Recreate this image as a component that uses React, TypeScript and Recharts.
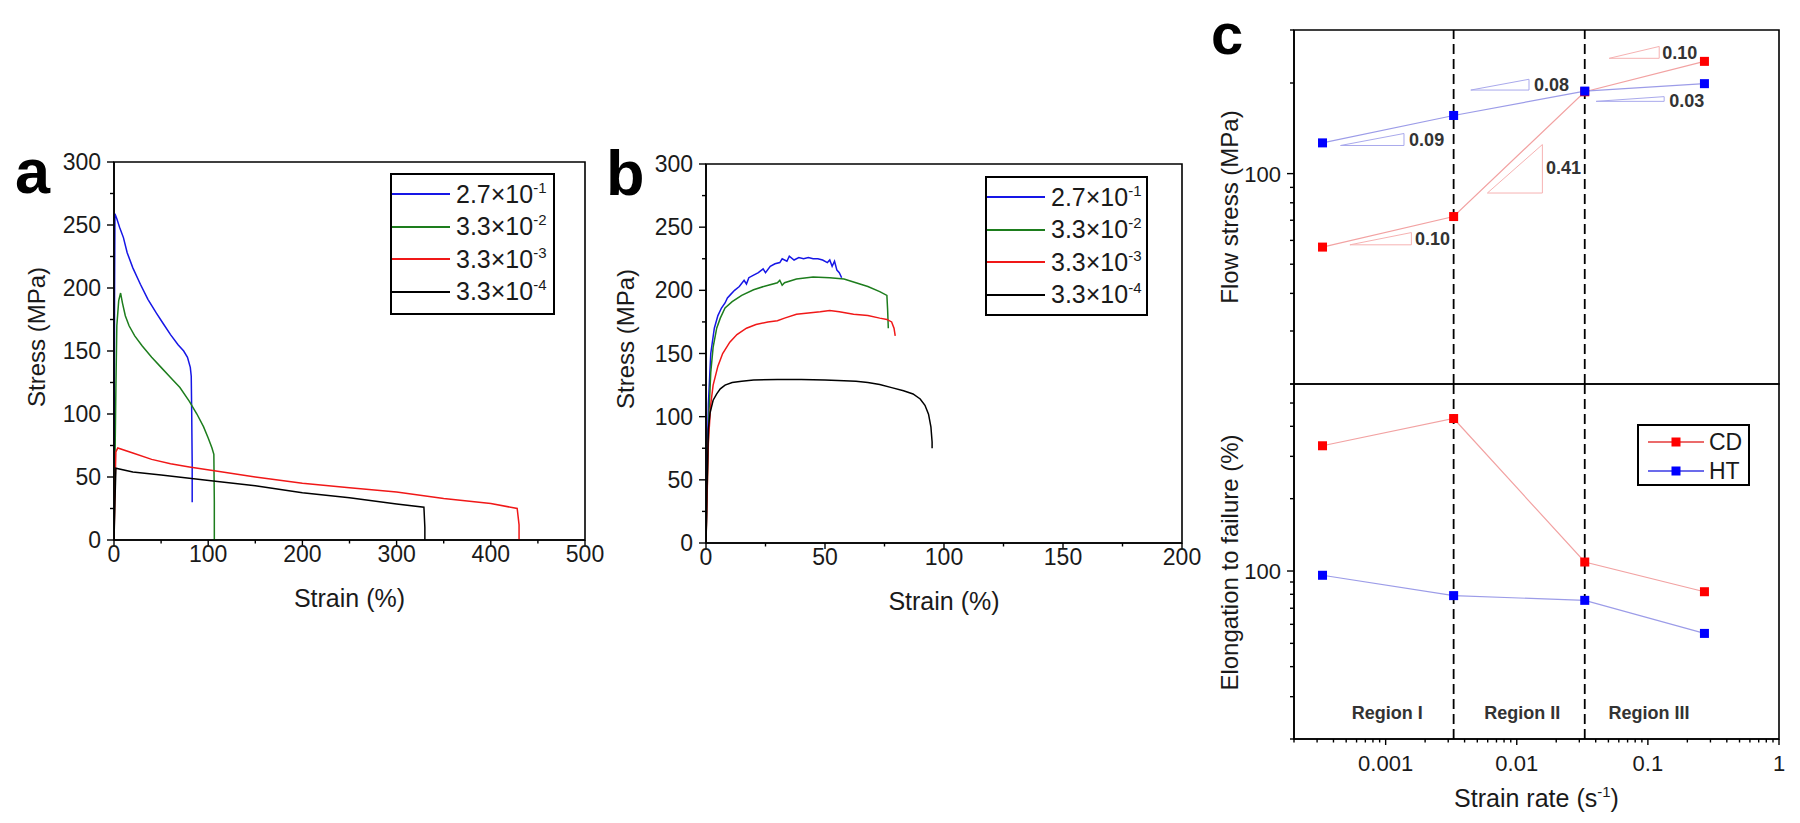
import React from "react";
import { LineChart, Line, XAxis, YAxis, ReferenceLine, ReferenceDot, ReferenceArea, Legend } from "recharts";

const FONT = '"Liberation Sans", Arial, Helvetica, sans-serif';
const INK = "#1a1a1a";

type Pt = { x: number; y: number };

// strain rates (s^-1) shared by the three panels
const rateLabels = [
  { base: "2.7×10", exp: "-1" },
  { base: "3.3×10", exp: "-2" },
  { base: "3.3×10", exp: "-3" },
  { base: "3.3×10", exp: "-4" },
];
const rateColors = ["#1616e6", "#1d7d1d", "#f01818", "#000000"];

// panel a: stress-strain (CD)
const aBlue: Pt[] = [
  { x: 0, y: 0 }, { x: 0.3, y: 120 }, { x: 0.6, y: 200 }, { x: 1, y: 259 }, { x: 3, y: 255 },
  { x: 6, y: 248 }, { x: 10, y: 240 }, { x: 14, y: 228 }, { x: 20, y: 216 }, { x: 28, y: 203 },
  { x: 36, y: 191 }, { x: 45, y: 180 }, { x: 52, y: 172 }, { x: 60, y: 163 }, { x: 68, y: 155 },
  { x: 74, y: 150 }, { x: 78, y: 145 }, { x: 81, y: 137 }, { x: 82, y: 130 }, { x: 82.5, y: 100 },
  { x: 83, y: 60 }, { x: 83, y: 30 },
];
const aGreen: Pt[] = [
  { x: 0, y: 0 }, { x: 1, y: 60 }, { x: 2, y: 120 }, { x: 3, y: 170 }, { x: 5, y: 190 },
  { x: 7, y: 196 }, { x: 9, y: 188 }, { x: 12, y: 178 }, { x: 16, y: 170 }, { x: 22, y: 162 },
  { x: 30, y: 154 }, { x: 40, y: 145 }, { x: 50, y: 137 }, { x: 60, y: 129 }, { x: 70, y: 121 },
  { x: 80, y: 110 }, { x: 88, y: 100 }, { x: 95, y: 90 }, { x: 100, y: 81 }, { x: 104, y: 73 },
  { x: 106, y: 68 }, { x: 106.5, y: 30 }, { x: 106.5, y: 0 },
];
const aRed: Pt[] = [
  { x: 0, y: 0 }, { x: 1, y: 40 }, { x: 2, y: 70 }, { x: 4, y: 73 }, { x: 20, y: 69 },
  { x: 40, y: 64 }, { x: 60, y: 60.5 }, { x: 80, y: 58 }, { x: 110, y: 54.5 }, { x: 150, y: 50 },
  { x: 200, y: 45 }, { x: 250, y: 41.5 }, { x: 300, y: 38 }, { x: 350, y: 33 }, { x: 400, y: 29 },
  { x: 428, y: 25 }, { x: 430, y: 12 }, { x: 430, y: 0 },
];
const aBlack: Pt[] = [
  { x: 0, y: 0 }, { x: 1, y: 30 }, { x: 2, y: 57 }, { x: 20, y: 54 }, { x: 50, y: 51.5 },
  { x: 80, y: 49 }, { x: 110, y: 46.5 }, { x: 150, y: 43 }, { x: 200, y: 37.5 }, { x: 250, y: 33.5 },
  { x: 300, y: 28.5 }, { x: 329, y: 26 }, { x: 330, y: 10 }, { x: 330, y: 0 },
];

// panel b: stress-strain (HT)
const bBlue: Pt[] = [
  { x: 0, y: 0 }, { x: 0.5, y: 60 }, { x: 1, y: 110 }, { x: 2, y: 150 }, { x: 3.5, y: 170 },
  { x: 5, y: 180 }, { x: 6.5, y: 186 }, { x: 8, y: 190 }, { x: 9, y: 194 }, { x: 10, y: 196 },
  { x: 12, y: 200 }, { x: 14, y: 203 }, { x: 16, y: 208 }, { x: 17, y: 205 }, { x: 18, y: 210 },
  { x: 20, y: 212 }, { x: 22, y: 214 }, { x: 24, y: 217 }, { x: 25, y: 214 }, { x: 27, y: 219 },
  { x: 29, y: 221 }, { x: 31, y: 222 }, { x: 32, y: 225 }, { x: 34, y: 223 }, { x: 35, y: 227 },
  { x: 37, y: 224 }, { x: 39, y: 226 }, { x: 41, y: 225 }, { x: 43, y: 226 }, { x: 45, y: 225 },
  { x: 47, y: 225 }, { x: 49, y: 224 }, { x: 51, y: 222 }, { x: 52, y: 224 }, { x: 53, y: 219 },
  { x: 54, y: 223 }, { x: 55, y: 216 }, { x: 56, y: 214 }, { x: 57, y: 210 },
];
const bGreen: Pt[] = [
  { x: 0, y: 0 }, { x: 0.7, y: 60 }, { x: 1.3, y: 105 }, { x: 2, y: 135 }, { x: 3, y: 155 },
  { x: 4.5, y: 170 }, { x: 6, y: 178 }, { x: 8, y: 186 }, { x: 11, y: 191 }, { x: 15, y: 196 },
  { x: 20, y: 200.5 }, { x: 25, y: 203.5 }, { x: 30, y: 206 }, { x: 31, y: 208 }, { x: 32, y: 204 },
  { x: 33, y: 206 }, { x: 38, y: 209 }, { x: 45, y: 210.5 }, { x: 52, y: 210 }, { x: 58, y: 209 },
  { x: 63, y: 206 }, { x: 68, y: 203 }, { x: 73, y: 199 }, { x: 76, y: 196 }, { x: 76.3, y: 185 },
  { x: 76.6, y: 170 },
];
const bRed: Pt[] = [
  { x: 0, y: 0 }, { x: 0.5, y: 40 }, { x: 1, y: 80 }, { x: 2, y: 110 }, { x: 3, y: 125 },
  { x: 5, y: 140 }, { x: 7, y: 150 }, { x: 10, y: 159 }, { x: 13, y: 165 }, { x: 17, y: 170 },
  { x: 21, y: 173 }, { x: 26, y: 175 }, { x: 30, y: 176 }, { x: 33, y: 178 }, { x: 38, y: 181 },
  { x: 43, y: 182 }, { x: 48, y: 183 }, { x: 52, y: 184 }, { x: 56, y: 183 }, { x: 62, y: 181 },
  { x: 68, y: 180 }, { x: 73, y: 178 }, { x: 76, y: 177 }, { x: 78, y: 175 }, { x: 79, y: 170 },
  { x: 79.5, y: 164 },
];
const bBlack: Pt[] = [
  { x: 0, y: 0 }, { x: 0.5, y: 50 }, { x: 1, y: 90 }, { x: 1.7, y: 103 }, { x: 3, y: 113 },
  { x: 4.5, y: 118 }, { x: 6, y: 122 }, { x: 8, y: 125 }, { x: 11, y: 127 }, { x: 15, y: 128 },
  { x: 20, y: 129 }, { x: 30, y: 129.5 }, { x: 40, y: 129.5 }, { x: 50, y: 129 }, { x: 58, y: 128.5 },
  { x: 63, y: 128 }, { x: 68, y: 127 }, { x: 73, y: 125.5 }, { x: 78, y: 123 }, { x: 83, y: 120.5 },
  { x: 87, y: 118 }, { x: 90, y: 114 }, { x: 92, y: 109 }, { x: 93.5, y: 102 }, { x: 94.5, y: 92 },
  { x: 95, y: 80 }, { x: 95, y: 75 },
];

const stressTicks = [0, 25, 50, 75, 100, 125, 150, 175, 200, 225, 250, 275, 300];
const aStrainTicks = [0, 50, 100, 150, 200, 250, 300, 350, 400, 450, 500];
const bStrainTicks = [0, 25, 50, 75, 100, 125, 150, 175, 200];

// panel c: rate dependence
const strainRates = [0.00033, 0.0033, 0.033, 0.27];
const cdFlowStress = [57, 72, 187, 236];
const htFlowStress = [126.5, 156, 188, 199];
const cdElongation = [332, 431, 109, 82];
const htElongation = [96, 79, 75.5, 55];
const regionBounds = [0.0033, 0.033];
const regionNames = ["Region I", "Region II", "Region III"];
const regionCentres = [0.00103, 0.011, 0.102];

const rateTicks = [
  0.0002, 0.0003, 0.0004, 0.0005, 0.0006, 0.0007, 0.0008, 0.0009,
  0.001, 0.002, 0.003, 0.004, 0.005, 0.006, 0.007, 0.008, 0.009,
  0.01, 0.02, 0.03, 0.04, 0.05, 0.06, 0.07, 0.08, 0.09,
  0.1, 0.2, 0.3, 0.4, 0.5, 0.6, 0.7, 0.8, 0.9, 1,
];
const rateDecades = [0.001, 0.01, 0.1, 1];
const flowTicks = [20, 30, 40, 50, 60, 70, 80, 90, 100, 200, 300];
const elongTicks = [20, 30, 40, 50, 60, 70, 80, 90, 100, 200, 300, 400, 500, 600];

// slope triangles: legs x1..x2 at y1, rise to y2 at x2, value label at (lx, ly)
const htSlopes = [
  { x1: 0.000453, x2: 0.00138, y1: 124, y2: 135.9, text: "0.09", lx: 0.00151, ly: 129.8 },
  { x1: 0.00446, x2: 0.0124, y1: 189.5, y2: 205.8, text: "0.08", lx: 0.01355, ly: 198 },
  { x1: 0.0403, x2: 0.1331, y1: 173.8, y2: 180.2, text: "0.03", lx: 0.1454, ly: 174.2 },
];
const cdSlopes = [
  { x1: 0.000534, x2: 0.001571, y1: 58, y2: 63.7, text: "0.10", lx: 0.001674, ly: 60.7 },
  { x1: 0.00597, x2: 0.01568, y1: 86.2, y2: 124.9, text: "0.41", lx: 0.01674, ly: 105 },
  { x1: 0.0507, x2: 0.122, y1: 241.6, y2: 264.5, text: "0.10", lx: 0.1286, ly: 252.6 },
];

const axisLine = { stroke: "#000", strokeWidth: 1.6 };

const zip = (xs: number[], ys: number[]): Pt[] => xs.map((x, i) => ({ x, y: ys[i] }));
const triangle = (s: { x1: number; x2: number; y1: number; y2: number }): Pt[] => [
  { x: s.x1, y: s.y1 },
  { x: s.x2, y: s.y1 },
  { x: s.x2, y: s.y2 },
  { x: s.x1, y: s.y1 },
];

function bottomTick(isMajor: (v: number) => boolean, dy: number, size: number) {
  return (p: any) => {
    const v = p.payload.value;
    const major = isMajor(v);
    return (
      <g key={`bt-${v}`}>
        <line x1={p.x} x2={p.x} y1={p.y} y2={p.y + (major ? 6 : 3.5)} stroke="#000" strokeWidth={1.4} />
        {major && (
          <text x={p.x} y={p.y + dy} textAnchor="middle" fontSize={size} fontFamily={FONT} fill={INK}>
            {String(v)}
          </text>
        )}
      </g>
    );
  };
}

function leftTick(isMajor: (v: number) => boolean, size: number) {
  return (p: any) => {
    const v = p.payload.value;
    const major = isMajor(v);
    return (
      <g key={`lt-${v}`}>
        <line x1={p.x} x2={p.x - (major ? 7 : 4)} y1={p.y} y2={p.y} stroke="#000" strokeWidth={1.4} />
        {major && (
          <text x={p.x - 13} y={p.y + 8} textAnchor="end" fontSize={size} fontFamily={FONT} fill={INK}>
            {String(v)}
          </text>
        )}
      </g>
    );
  };
}

const vTitle = (cx: number, cy: number, text: string) => () => (
  <text
    x={cx}
    y={cy}
    transform={`rotate(-90 ${cx} ${cy})`}
    textAnchor="middle"
    dominantBaseline="central"
    fontSize={24}
    fontFamily={FONT}
    fill={INK}
  >
    {text}
  </text>
);

const hTitle = (cx: number, baseline: number, text: string) => () => (
  <text x={cx} y={baseline} textAnchor="middle" fontSize={25} fontFamily={FONT} fill={INK}>
    {text}
  </text>
);

const rateLegend = (w: number, h: number) => () => (
  <div
    style={{
      width: w,
      height: h,
      border: "2px solid #000",
      boxSizing: "border-box",
      background: "#fff",
      paddingTop: 3,
      fontFamily: FONT,
    }}
  >
    {rateLabels.map((r, i) => (
      <div key={i} style={{ display: "flex", alignItems: "center", height: 32.5 }}>
        <div style={{ marginLeft: 0, width: 58, borderTop: `2px solid ${rateColors[i]}` }} />
        <span style={{ marginLeft: 6, fontSize: 25, color: INK, lineHeight: 1, whiteSpace: "nowrap" }}>
          {r.base}
          <span style={{ fontSize: 15, position: "relative", top: -10 }}>{r.exp}</span>
        </span>
      </div>
    ))}
  </div>
);

type StressProps = {
  left: number;
  yAxisWidth: number;
  marginRight: number;
  marginTop: number;
  marginBottom: number;
  xMax: number;
  xTicks: number[];
  xMajor: number;
  curves: Pt[][];
  yTitle: [number, number];
  xTitle: [number, number];
  legendBox: { left: number; top: number; width: number; height: number };
};

function StressPanel(p: StressProps) {
  return (
    <div style={{ position: "absolute", left: p.left, top: 0 }}>
      <LineChart
        width={640}
        height={640}
        margin={{ top: p.marginTop, right: p.marginRight, bottom: p.marginBottom, left: 0 }}
      >
        <XAxis
          dataKey="x"
          type="number"
          domain={[0, p.xMax]}
          ticks={p.xTicks}
          interval={0}
          allowDataOverflow
          height={70}
          tickSize={0}
          tickMargin={0}
          tickLine={false}
          axisLine={axisLine}
          tick={bottomTick((v) => v % p.xMajor === 0, 22, 23)}
          label={{ content: hTitle(p.xTitle[0], p.xTitle[1], "Strain (%)") }}
        />
        <YAxis
          type="number"
          domain={[0, 300]}
          ticks={stressTicks}
          interval={0}
          allowDataOverflow
          width={p.yAxisWidth}
          tickSize={0}
          tickMargin={0}
          tickLine={false}
          axisLine={axisLine}
          tick={leftTick((v) => v % 50 === 0, 23)}
          label={{ content: vTitle(p.yTitle[0], p.yTitle[1], "Stress (MPa)") }}
        />
        <ReferenceArea x1={0} x2={p.xMax} y1={0} y2={300} fill="none" stroke="#000" strokeWidth={1.6} ifOverflow="visible" />
        {p.curves.map((c, i) => (
          <Line
            key={i}
            data={c}
            dataKey="y"
            name={rateLabels[i].base + rateLabels[i].exp}
            type="linear"
            stroke={rateColors[i]}
            strokeWidth={1.5}
            dot={false}
            activeDot={false}
            isAnimationActive={false}
          />
        ))}
        <Legend
          layout="vertical"
          align="center"
          verticalAlign="middle"
          wrapperStyle={{ left: p.legendBox.left, top: p.legendBox.top, width: p.legendBox.width, height: p.legendBox.height }}
          content={rateLegend(p.legendBox.width, p.legendBox.height)}
        />
      </LineChart>
    </div>
  );
}

const squareDot = (fill: string) => (p: any) => (
  <rect key={`sq-${p.index}`} x={p.cx - 4.5} y={p.cy - 4.5} width={9} height={9} fill={fill} />
);

const slopeText = (text: string) => (p: any) => (
  <text x={p.cx} y={p.cy} dy="0.35em" fontSize={18} fontWeight="bold" fontFamily={FONT} fill="#333">
    {text}
  </text>
);

const regionText = (text: string) => (p: any) => (
  <text x={p.cx} y={p.cy} dy="0.35em" textAnchor="middle" fontSize={18} fontWeight="bold" fontFamily={FONT} fill="#333">
    {text}
  </text>
);

const rateAxisCommon = {
  dataKey: "x",
  type: "number" as const,
  scale: "log" as const,
  domain: [0.0002, 1],
  allowDataOverflow: true,
};

function FlowPanel() {
  return (
    <div style={{ position: "absolute", left: 1200, top: 0 }}>
      <LineChart width={600} height={386} margin={{ top: 30, right: 21, bottom: 2, left: 0 }}>
        <XAxis {...rateAxisCommon} height={0} tick={false} tickLine={false} axisLine={axisLine} />
        <YAxis
          type="number"
          scale="log"
          domain={[20, 300]}
          allowDataOverflow
          ticks={flowTicks}
          interval={0}
          width={94}
          tickSize={0}
          tickMargin={0}
          tickLine={false}
          axisLine={axisLine}
          tick={leftTick((v) => v === 100, 22)}
          label={{ content: vTitle(29, 207, "Flow stress (MPa)") }}
        />
        <ReferenceArea x1={0.0002} x2={1} y1={20} y2={300} fill="none" stroke="#000" strokeWidth={1.6} ifOverflow="visible" />
        {regionBounds.map((b) => (
          <ReferenceLine key={b} x={b} stroke="#000" strokeWidth={1.8} strokeDasharray="10 5" />
        ))}
        {htSlopes.map((s, i) => (
          <Line key={`hs${i}`} data={triangle(s)} dataKey="y" type="linear" stroke="#a9a9ec" strokeWidth={1} dot={false} activeDot={false} legendType="none" isAnimationActive={false} />
        ))}
        {cdSlopes.map((s, i) => (
          <Line key={`cs${i}`} data={triangle(s)} dataKey="y" type="linear" stroke="#f6b2b2" strokeWidth={1} dot={false} activeDot={false} legendType="none" isAnimationActive={false} />
        ))}
        <Line data={zip(strainRates, cdFlowStress)} dataKey="y" name="CD" type="linear" stroke="#f2a2a2" strokeWidth={1.2} dot={squareDot("#ff0000")} activeDot={false} isAnimationActive={false} />
        <Line data={zip(strainRates, htFlowStress)} dataKey="y" name="HT" type="linear" stroke="#9c9ce8" strokeWidth={1.2} dot={squareDot("#0000ff")} activeDot={false} isAnimationActive={false} />
        {[...htSlopes, ...cdSlopes].map((s, i) => (
          <ReferenceDot key={`sl${i}`} x={s.lx} y={s.ly} r={0} shape={slopeText(s.text)} />
        ))}
      </LineChart>
    </div>
  );
}

const seriesLegend = () => (
  <div
    style={{
      width: 113,
      height: 62,
      border: "2px solid #000",
      boxSizing: "border-box",
      background: "#fff",
      position: "relative",
      fontFamily: FONT,
    }}
  >
    {[
      { name: "CD", line: "#e43a3a", fill: "#ff0000", top: 4 },
      { name: "HT", line: "#3a3ae4", fill: "#0000ff", top: 33 },
    ].map((s) => (
      <div key={s.name} style={{ position: "absolute", left: 9, top: s.top, height: 24, display: "flex", alignItems: "center" }}>
        <svg width={56} height={12}>
          <line x1={0} x2={56} y1={6} y2={6} stroke={s.line} strokeWidth={1.5} />
          <rect x={23.5} y={1.5} width={9} height={9} fill={s.fill} />
        </svg>
        <span style={{ marginLeft: 5, fontSize: 23, color: INK, lineHeight: 1 }}>{s.name}</span>
      </div>
    ))}
  </div>
);

function ElongationPanel() {
  return (
    <div style={{ position: "absolute", left: 1200, top: 380 }}>
      <LineChart width={600} height={443} margin={{ top: 4, right: 21, bottom: 4, left: 0 }}>
        <XAxis
          {...rateAxisCommon}
          ticks={rateTicks}
          interval={0}
          height={80}
          tickSize={0}
          tickMargin={0}
          tickLine={false}
          axisLine={axisLine}
          tick={bottomTick((v) => rateDecades.includes(v), 32, 22)}
          label={{
            content: () => (
              <text x={336.5} y={427} textAnchor="middle" fontSize={25} fontFamily={FONT} fill={INK}>
                Strain rate (s
                <tspan dy={-10} fontSize={15}>
                  -1
                </tspan>
                <tspan dy={10}>)</tspan>
              </text>
            ),
          }}
        />
        <YAxis
          type="number"
          scale="log"
          domain={[20, 600]}
          allowDataOverflow
          ticks={elongTicks}
          interval={0}
          width={94}
          tickSize={0}
          tickMargin={0}
          tickLine={false}
          axisLine={axisLine}
          tick={leftTick((v) => v === 100, 22)}
          label={{ content: vTitle(29, 182.5, "Elongation to failure (%)") }}
        />
        <ReferenceArea x1={0.0002} x2={1} y1={20} y2={600} fill="none" stroke="#000" strokeWidth={1.6} ifOverflow="visible" />
        {regionBounds.map((b) => (
          <ReferenceLine key={b} x={b} stroke="#000" strokeWidth={1.8} strokeDasharray="10 5" />
        ))}
        <Line data={zip(strainRates, cdElongation)} dataKey="y" name="CD" type="linear" stroke="#f2a2a2" strokeWidth={1.2} dot={squareDot("#ff0000")} activeDot={false} isAnimationActive={false} />
        <Line data={zip(strainRates, htElongation)} dataKey="y" name="HT" type="linear" stroke="#9c9ce8" strokeWidth={1.2} dot={squareDot("#0000ff")} activeDot={false} isAnimationActive={false} />
        {regionNames.map((n, i) => (
          <ReferenceDot key={n} x={regionCentres[i]} y={25.7} r={0} shape={regionText(n)} />
        ))}
        <Legend
          layout="vertical"
          align="center"
          verticalAlign="middle"
          wrapperStyle={{ left: 437, top: 44, width: 113, height: 62 }}
          content={seriesLegend}
        />
      </LineChart>
    </div>
  );
}

export default function App() {
  return (
    <div style={{ position: "absolute", left: 0, top: 0, width: 1800, height: 823, background: "#fff", overflow: "hidden" }}>
      <StressPanel
        left={0}
        yAxisWidth={114}
        marginRight={55}
        marginTop={162}
        marginBottom={30}
        xMax={500}
        xTicks={aStrainTicks}
        xMajor={100}
        curves={[aBlue, aGreen, aRed, aBlack]}
        yTitle={[36, 337]}
        xTitle={[349.5, 607]}
        legendBox={{ left: 390, top: 173, width: 165, height: 142 }}
      />
      <StressPanel
        left={600}
        yAxisWidth={106}
        marginRight={58}
        marginTop={164}
        marginBottom={27}
        xMax={200}
        xTicks={bStrainTicks}
        xMajor={50}
        curves={[bBlue, bGreen, bRed, bBlack]}
        yTitle={[25.6, 339]}
        xTitle={[344, 610]}
        legendBox={{ left: 385, top: 176, width: 163, height: 140 }}
      />
      <FlowPanel />
      <ElongationPanel />
      <svg width={1800} height={823} style={{ position: "absolute", left: 0, top: 0, pointerEvents: "none" }}>
        <text x={15} y={193} fontSize={63} fontWeight="bold" fontFamily={FONT} fill="#000">a</text>
        <text x={606} y={195} fontSize={63} fontWeight="bold" fontFamily={FONT} fill="#000">b</text>
        <text x={1211} y={54} fontSize={58} fontWeight="bold" fontFamily={FONT} fill="#000">c</text>
      </svg>
    </div>
  );
}
